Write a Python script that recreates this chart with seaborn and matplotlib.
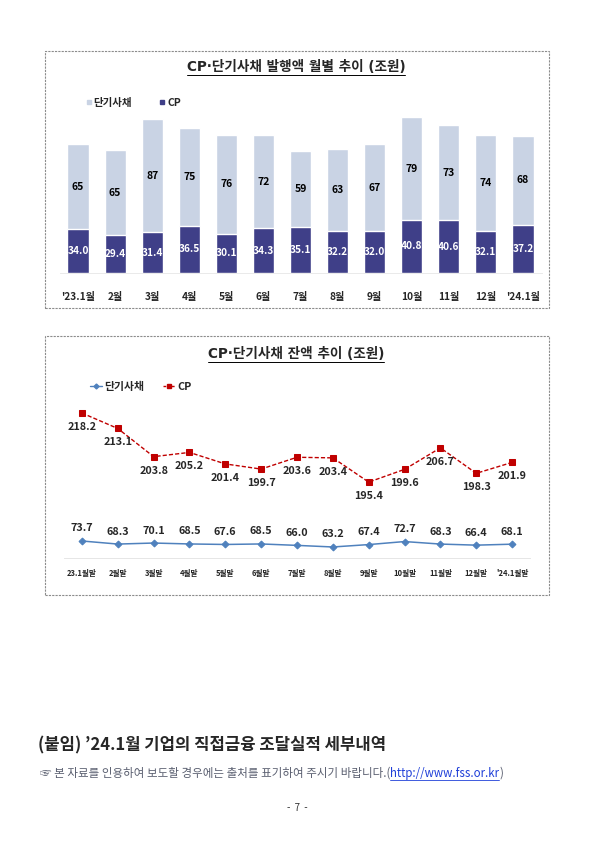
import numpy as np
import pandas as pd
import matplotlib
matplotlib.use("Agg")
import matplotlib.pyplot as plt
from matplotlib.lines import Line2D
from matplotlib.patches import Rectangle
import seaborn as sns

# monthly issuance (trillion won)
months_issue = ["'23.1월", "2월", "3월", "4월", "5월", "6월", "7월", "8월", "9월",
                "10월", "11월", "12월", "'24.1월"]
stb_issue = [65, 65, 87, 75, 76, 72, 59, 63, 67, 79, 73, 74, 68]
cp_issue = [34.0, 29.4, 31.4, 36.5, 30.1, 34.3, 35.1, 32.2, 32.0, 40.8, 40.6, 32.1, 37.2]

# outstanding balance (trillion won)
months_bal = ["23.1월말", "2월말", "3월말", "4월말", "5월말", "6월말", "7월말", "8월말",
              "9월말", "10월말", "11월말", "12월말", "'24.1월말"]
stb_bal = [73.7, 68.3, 70.1, 68.5, 67.6, 68.5, 66.0, 63.2, 67.4, 72.7, 68.3, 66.4, 68.1]
cp_bal = [218.2, 213.1, 203.8, 205.2, 201.4, 199.7, 203.6, 203.4, 195.4, 199.6, 206.7, 198.3, 201.9]

sns.set_style("white")
FONT = ["Noto Sans CJK KR", "DejaVu Sans"]
TFONT = ["DejaVu Sans", "Noto Sans CJK KR"]
plt.rcParams["font.family"] = FONT

LIGHT = "#c9d3e4"
DARK = "#3f3f88"
RED = "#c00000"
BLUE = "#4f81bd"

W, H = 595, 841
fig = plt.figure(figsize=(W / 100, H / 100), dpi=100)


def box(x0, y0, x1, y1):
    return [x0 / W, 1 - y1 / H, (x1 - x0) / W, (y1 - y0) / H]


def fx(x):
    return x / W


def fy(y):
    return 1 - y / H


def underline(txt, y, color="black", lw=0.7):
    fig.canvas.draw()
    b = txt.get_window_extent()
    fig.lines.append(Line2D([b.x0 / W, b.x1 / W], [fy(y), fy(y)], transform=fig.transFigure,
                            color=color, linewidth=lw))
    return b


# dashed frames
for (y0, y1) in [(51, 308), (336, 595)]:
    fig.patches.append(Rectangle((fx(45), fy(y1)), fx(549) - fx(45), fy(y0) - fy(y1),
                                 transform=fig.transFigure, fill=False,
                                 edgecolor="#8c8c8c", linestyle=(0, (2, 1)), linewidth=0.8))

# ---------- chart 1: stacked bars ----------
df1 = pd.DataFrame({"month": months_issue, "stb": stb_issue, "cp": cp_issue})
df1["total"] = df1["stb"] + df1["cp"]

ax1 = fig.add_axes(box(59.5, 110, 541.5, 273))
sns.barplot(data=df1, x="month", y="total", color=LIGHT, width=0.57,
            saturation=1, ax=ax1)
sns.barplot(data=df1, x="month", y="cp", color=DARK, width=0.57,
            saturation=1, ax=ax1)
ax1.set_xlim(-0.5, 12.5)
ax1.set_ylim(0, 125.4)
ax1.set_xlabel("")
ax1.set_ylabel("")
ax1.set_yticks([])
for s in ["top", "left", "right"]:
    ax1.spines[s].set_visible(False)
ax1.spines["bottom"].set_color("#e6e6e6")
ax1.spines["bottom"].set_linewidth(0.6)
ax1.set_xticks(range(len(months_issue)))
ax1.set_xticklabels(months_issue, fontsize=7.3, fontweight="bold")
ax1.tick_params(axis="x", length=0, pad=14)
ax1.set_xticks(np.arange(0.5, 12, 1), minor=True)
ax1.tick_params(axis="x", which="minor", length=4, color="#d0d0d0", width=0.6)

for i, row in df1.iterrows():
    ax1.text(i, row["cp"] + row["stb"] / 2, f"{row['stb']:.0f}", ha="center", va="center",
             fontsize=7.5, fontweight="bold", color="black")
    ax1.text(i, row["cp"] / 2, f"{row['cp']:.1f}", ha="center", va="center",
             fontsize=7.3, fontweight="bold", color="white")

t1 = fig.text(fx(296), fy(67), "CP·단기사채 발행액 월별 추이 (조원)", ha="center", va="center",
              fontsize=9.8, fontweight="bold", family=TFONT)
underline(t1, 75)

leg1 = [Line2D([], [], marker="s", linestyle="none", color=LIGHT, markersize=3.5),
        Line2D([], [], marker="s", linestyle="none", color=DARK, markersize=3.5)]
fig.legend(leg1, ["단기사채", "CP"], loc="center left", bbox_to_anchor=(fx(76), fy(103)),
           ncol=2, frameon=False, handlelength=0.6, handletextpad=0.2, columnspacing=2.6,
           prop={"family": FONT, "size": 7.5, "weight": "bold"})

# ---------- chart 2: balance lines (dual axis) ----------
df2 = pd.DataFrame({"pos": np.arange(len(months_bal)), "month": months_bal,
                    "stb": stb_bal, "cp": cp_bal})

ax2 = fig.add_axes(box(64, 400, 530, 558))
ax3 = ax2.twinx()
sns.lineplot(data=df2, x="pos", y="cp", ax=ax2, color=RED, linestyle=(0, (3, 1.5)),
             linewidth=1.0, marker="s", markersize=4.5, markeredgecolor=RED)
sns.lineplot(data=df2, x="pos", y="stb", ax=ax3, color=BLUE, linewidth=1.1,
             marker="D", markersize=3.5, markeredgecolor=BLUE)
ax2.set_xlim(-0.5, 12.5)
ax2.set_ylim(170.35, 222.5)
ax3.set_ylim(43.9, 320.6)
for a in (ax2, ax3):
    a.set_xlabel("")
    a.set_ylabel("")
    a.set_yticks([])
    for s in ["top", "left", "right"]:
        a.spines[s].set_visible(False)
    a.spines["bottom"].set_color("#e6e6e6")
    a.spines["bottom"].set_linewidth(0.6)
ax2.set_xticks(df2["pos"])
ax2.set_xticklabels(months_bal, fontsize=5.5, fontweight="bold")
ax2.tick_params(axis="x", length=0, pad=8)
ax2.set_xticks(np.arange(0.5, 12, 1), minor=True)
ax2.tick_params(axis="x", which="minor", length=4, color="#c8c8c8", width=0.6)

for _, row in df2.iterrows():
    ax2.annotate(f"{row['cp']:.1f}", (row["pos"], row["cp"]), xytext=(0, -10),
                 textcoords="offset points", ha="center", va="center",
                 fontsize=7.8, fontweight="bold")
    ax3.annotate(f"{row['stb']:.1f}", (row["pos"], row["stb"]), xytext=(0, 9),
                 textcoords="offset points", ha="center", va="center",
                 fontsize=7.8, fontweight="bold")

t2 = fig.text(fx(296), fy(354), "CP·단기사채 잔액 추이 (조원)", ha="center", va="center",
              fontsize=9.8, fontweight="bold", family=TFONT)
underline(t2, 362)

leg2 = [Line2D([], [], marker="D", color=BLUE, markersize=2.5, linewidth=1.0),
        Line2D([], [], marker="s", color=RED, markersize=3.5, linewidth=1.0,
               linestyle=(0, (2, 1)))]
fig.legend(leg2, ["단기사채", "CP"], loc="center left", bbox_to_anchor=(fx(80), fy(387)),
           ncol=2, frameon=False, handlelength=1.1, handletextpad=0.2, columnspacing=1.8,
           prop={"family": FONT, "size": 7.8, "weight": "bold"})

# ---------- page text ----------
fig.text(fx(38), fy(745), "(붙임) ’24.1월 기업의 직접금융 조달실적 세부내역", ha="left",
         va="center", fontsize=12, fontweight="bold")
note = fig.text(fx(40), fy(773), "☞ 본 자료를 인용하여 보도할 경우에는 출처를 표기하여 주시기 바랍니다.(",
                ha="left", va="center", fontsize=8.3, color="#5a5f70")
fig.canvas.draw()
bb = note.get_window_extent()
url = fig.text(bb.x1 / W, fy(773), "http://www.fss.or.kr", ha="left", va="center",
               fontsize=8.3, color="#1f3fd8")
ub = underline(url, 780, color="#1f3fd8", lw=0.6)
fig.text(ub.x1 / W, fy(773), ")", ha="left", va="center", fontsize=8.3, color="#5a5f70")
fig.text(fx(297), fy(808), "-  7  -", ha="center", va="center", fontsize=7, color="#333333")

fig.savefig("out.png", dpi=100)
